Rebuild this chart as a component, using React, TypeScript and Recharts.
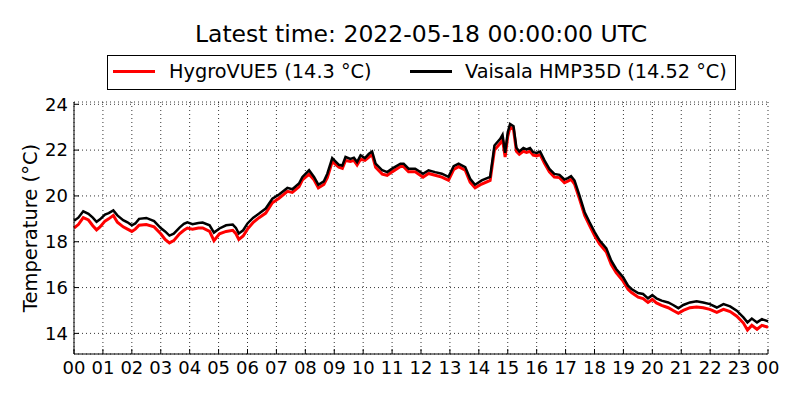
import React from "react";
import { LineChart, Line, XAxis, YAxis, CartesianGrid } from "recharts";

// Hours since 2022-05-17 00:00 UTC
const hours = [
  0.0, 0.15, 0.32, 0.5, 0.65, 0.78, 0.9, 1.07, 1.2, 1.36, 1.5, 1.7, 1.85, 2.0, 2.12, 2.25, 2.5, 2.77,
  3.0, 3.15, 3.3, 3.45, 3.65, 3.8, 3.92, 4.1, 4.3, 4.45, 4.69, 4.84, 5.03, 5.26, 5.49, 5.6, 5.7, 5.85,
  6.0, 6.2, 6.4, 6.63, 6.86, 7.09, 7.38, 7.55, 7.78, 7.9, 8.13, 8.3, 8.45, 8.64, 8.76, 8.93,
  9.16, 9.28, 9.39, 9.56, 9.68, 9.79, 9.91, 10.06, 10.2, 10.31, 10.43, 10.66, 10.83, 11.0,
  11.29, 11.4, 11.57, 11.8, 12.07, 12.26, 12.49, 12.72, 12.95, 13.13, 13.3, 13.53, 13.7, 13.87,
  14.1, 14.39, 14.54, 14.74, 14.82, 14.91, 15.0, 15.08, 15.2, 15.3, 15.4, 15.54, 15.65, 15.77,
  15.88, 16.0, 16.12, 16.27, 16.44, 16.61, 16.79, 16.96, 17.08, 17.19, 17.31, 17.48, 17.66, 17.83,
  18.01, 18.18, 18.41, 18.58, 18.75, 18.99, 19.16, 19.28, 19.51, 19.68, 19.85, 20.0, 20.14, 20.32,
  20.55, 20.72, 20.9, 21.07, 21.3, 21.53, 21.76, 21.99, 22.23, 22.46, 22.69, 22.92, 23.15, 23.29,
  23.44, 23.62, 23.79, 23.96, 24.0,
];

const vaisala = [
  18.92, 19.05, 19.33, 19.22, 19.05, 18.87, 18.98, 19.19, 19.25, 19.37, 19.15, 18.94, 18.85, 18.72, 18.8, 19.0, 19.04, 18.9,
  18.6, 18.45, 18.27, 18.35, 18.62, 18.78, 18.85, 18.77, 18.82, 18.84, 18.72, 18.4, 18.58, 18.72, 18.75, 18.6, 18.36, 18.5,
  18.8, 19.05, 19.23, 19.45, 19.88, 20.06, 20.35, 20.29, 20.54, 20.83, 21.12, 20.83, 20.49, 20.64, 20.97, 21.65,
  21.36, 21.33, 21.7, 21.62, 21.67, 21.48, 21.77, 21.65, 21.84, 21.94, 21.41, 21.12, 21.04, 21.19,
  21.41, 21.41, 21.19, 21.19, 20.97, 21.12, 21.04, 20.97, 20.83, 21.3, 21.41, 21.26, 20.75, 20.49,
  20.68, 20.83, 22.2, 22.49, 22.67, 21.88, 22.78, 23.14, 23.04, 22.1, 21.94, 22.09, 22.03, 22.09,
  21.91, 21.88, 21.94, 21.55, 21.18, 20.96, 20.92, 20.72, 20.78, 20.86, 20.67, 20.02, 19.29, 18.85,
  18.41, 18.05, 17.71, 17.17, 16.81, 16.45, 16.08, 15.94, 15.76, 15.72, 15.53, 15.67, 15.53, 15.43,
  15.35, 15.24, 15.1, 15.24, 15.35, 15.4, 15.35, 15.28, 15.13, 15.28, 15.18, 14.99, 14.7, 14.48,
  14.65, 14.48, 14.62, 14.55, 14.52,
];

const hygroVue = [
  18.6, 18.75, 19.05, 18.95, 18.7, 18.52, 18.65, 18.9, 19.0, 19.15, 18.85, 18.65, 18.55, 18.45, 18.55, 18.72, 18.75, 18.65,
  18.35, 18.1, 17.95, 18.05, 18.35, 18.5, 18.6, 18.55, 18.6, 18.6, 18.45, 18.05, 18.35, 18.45, 18.5, 18.35, 18.1, 18.25,
  18.55, 18.85, 19.05, 19.25, 19.7, 19.9, 20.2, 20.15, 20.4, 20.7, 20.95, 20.7, 20.35, 20.5, 20.8, 21.5,
  21.25, 21.2, 21.55, 21.5, 21.55, 21.35, 21.6, 21.55, 21.7, 21.8, 21.25, 20.95, 20.9, 21.05,
  21.28, 21.28, 21.05, 21.05, 20.82, 20.98, 20.9, 20.82, 20.68, 21.15, 21.28, 21.12, 20.6, 20.35,
  20.52, 20.68, 22.0, 22.3, 22.45, 21.7, 22.6, 23.0, 22.9, 21.95, 21.82, 21.95, 21.9, 21.95,
  21.78, 21.75, 21.8, 21.42, 21.05, 20.82, 20.8, 20.58, 20.65, 20.72, 20.52, 19.88, 19.15, 18.7,
  18.25, 17.9, 17.55, 17.0, 16.65, 16.28, 15.92, 15.78, 15.58, 15.52, 15.35, 15.48, 15.33, 15.22,
  15.12, 15.0, 14.88, 15.0, 15.12, 15.15, 15.12, 15.05, 14.92, 15.05, 14.95, 14.75, 14.45, 14.15,
  14.35, 14.18, 14.35, 14.28, 14.3,
];

const hourTicks = [0, 1, 2, 3, 4, 5, 6, 7, 8, 9, 10, 11, 12, 13, 14, 15, 16, 17, 18, 19, 20, 21, 22, 23, 24];
const tempTicks = [14, 16, 18, 20, 22, 24];

const data = hours.map((h, i) => ({ hour: h, hygro: hygroVue[i], vaisala: vaisala[i] }));

const FONT = "'DejaVu Sans', sans-serif";
const tickStyle = { fontSize: 18, fill: "#000", fontFamily: FONT };
const fmtHour = (h: number) => String(h % 24).padStart(2, "0");

export default function App() {
  return (
    <div style={{ position: "absolute", left: 0, top: 0, width: 800, height: 400, background: "#fff", fontFamily: FONT }}>
      {/* title */}
      <div style={{ position: "absolute", left: 74, width: 694, top: 19, textAlign: "center", fontSize: 23.5, lineHeight: "30px", whiteSpace: "nowrap" }}>
        Latest time: 2022-05-18 00:00:00 UTC
      </div>

      {/* legend */}
      <div style={{ position: "absolute", left: 107, top: 55, width: 627, height: 33, border: "1px solid #000", fontSize: 19.3, whiteSpace: "nowrap" }}>
        <div style={{ position: "absolute", left: 5, top: 14, width: 42, height: 2.7, background: "#f00" }} />
        <div style={{ position: "absolute", left: 61, top: 4, lineHeight: "24px" }}>HygroVUE5 (14.3 °C)</div>
        <div style={{ position: "absolute", left: 302, top: 14, width: 42, height: 2.7, background: "#000" }} />
        <div style={{ position: "absolute", left: 357, top: 4, lineHeight: "24px" }}>Vaisala HMP35D (14.52 °C)</div>
      </div>

      {/* y axis label */}
      <div
        style={{
          position: "absolute", left: 30, top: 228, fontSize: 19.5, whiteSpace: "nowrap",
          transform: "translate(-50%, -50%) rotate(-90deg)",
        }}
      >
        Temperature (°C)
      </div>

      <LineChart width={800} height={400} data={data} margin={{ top: 102, right: 32, bottom: 0, left: 0 }}>
        <CartesianGrid stroke="#000" strokeDasharray="1 3" strokeWidth={0.8} />
        <XAxis
          dataKey="hour" type="number" domain={[0, 24]} ticks={hourTicks} tickFormatter={fmtHour}
          height={46} tickSize={-5} tickMargin={12} tick={tickStyle} interval={0}
          axisLine={{ stroke: "#000" }} tickLine={{ stroke: "#000" }}
        />
        <XAxis
          xAxisId="top" orientation="top" dataKey="hour" type="number" domain={[0, 24]} ticks={hourTicks}
          tickFormatter={() => ""} height={0} tickSize={-5} interval={0}
          axisLine={{ stroke: "#000" }} tickLine={{ stroke: "#000" }}
        />
        <YAxis
          type="number" domain={[13.1, 24.1]} ticks={tempTicks} width={74} tickSize={-5} tickMargin={11}
          tick={tickStyle} allowDataOverflow axisLine={{ stroke: "#000" }} tickLine={{ stroke: "#000" }}
        />
        <YAxis
          yAxisId="right" orientation="right" type="number" domain={[13.1, 24.1]} ticks={tempTicks}
          tickFormatter={() => ""} width={0} tickSize={-5} allowDataOverflow
          axisLine={{ stroke: "#000" }} tickLine={{ stroke: "#000" }}
        />
        <Line dataKey="hygro" stroke="#f00" strokeWidth={3} dot={false} isAnimationActive={false} />
        <Line dataKey="vaisala" stroke="#000" strokeWidth={2.5} dot={false} isAnimationActive={false} />
      </LineChart>
    </div>
  );
}
